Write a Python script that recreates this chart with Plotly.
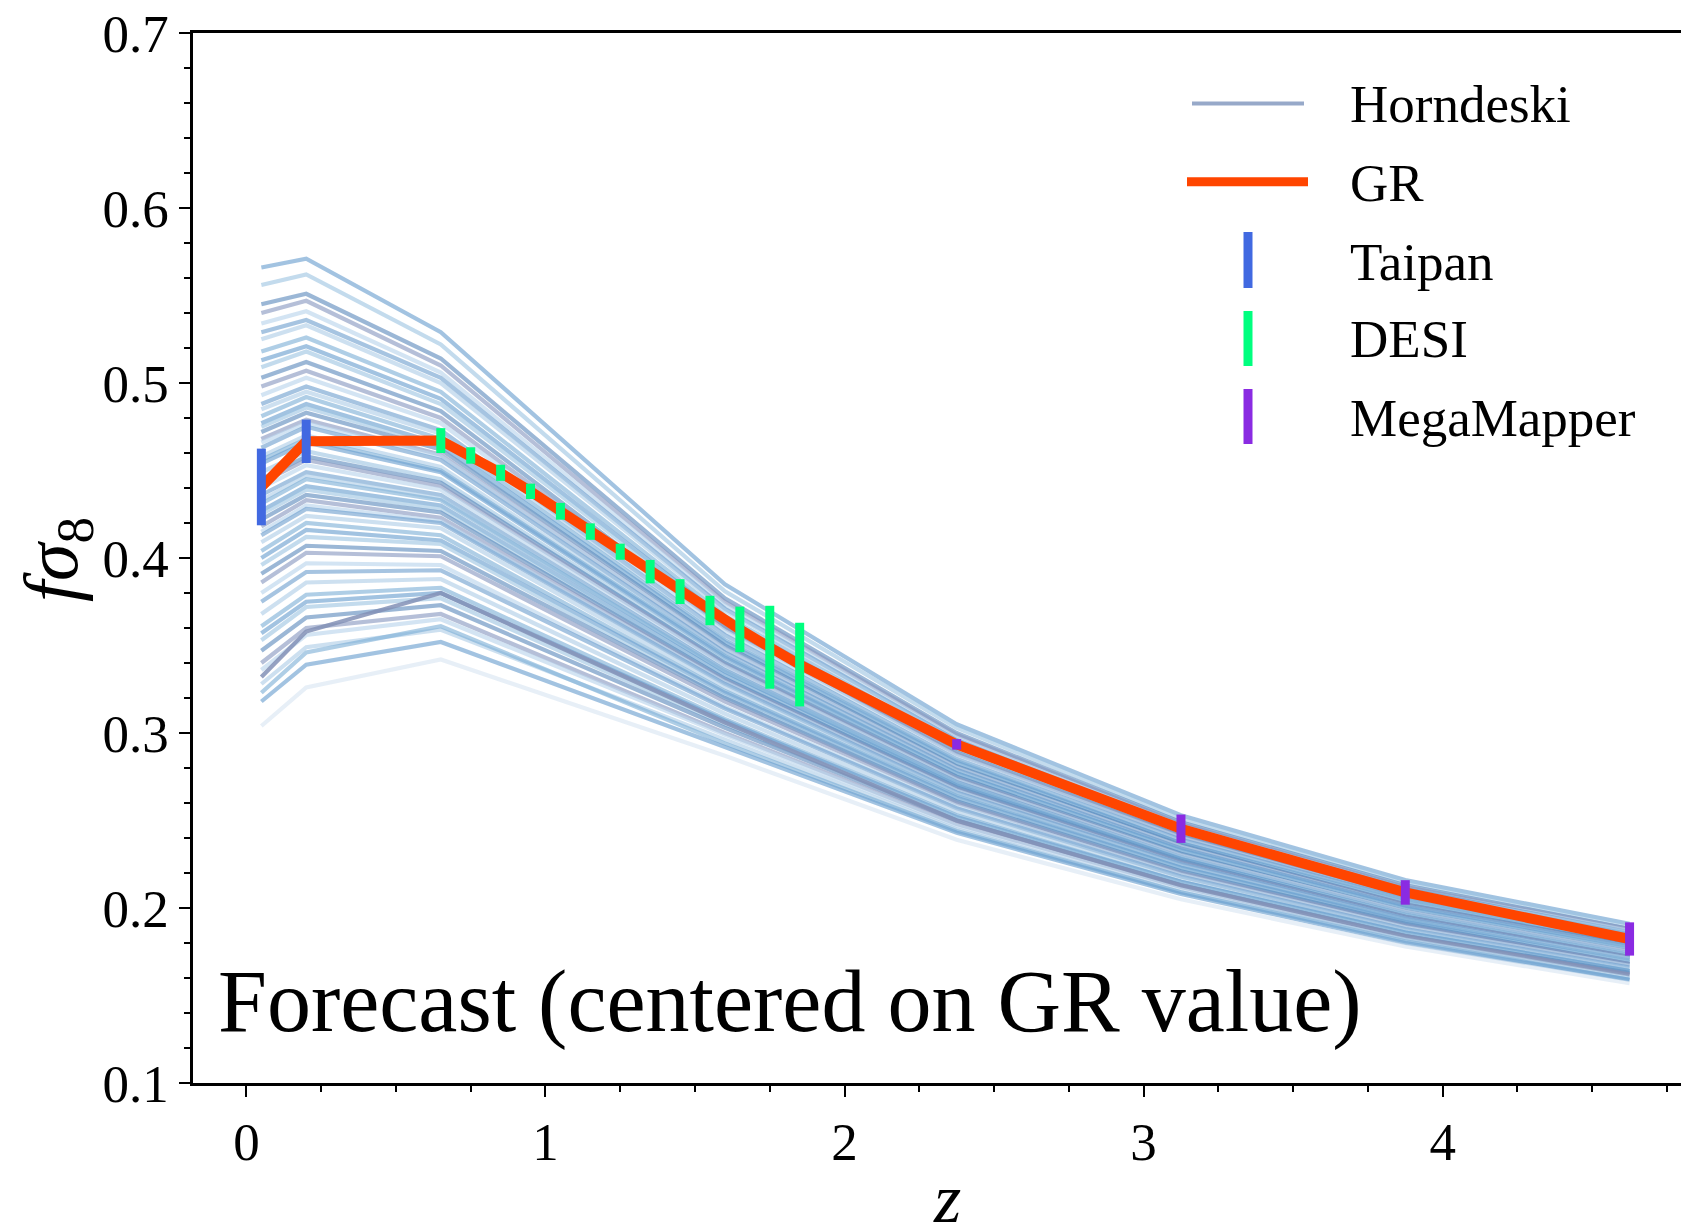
import plotly.graph_objects as go

# ---------------- data ----------------
HORN_Z = [0.05, 0.2, 0.65, 1.6, 2.375, 3.125, 3.875, 4.625]
HORNDESKI_FS8 = [
    [0.566, 0.571, 0.529, 0.385, 0.305, 0.253, 0.216, 0.191],
    [0.556, 0.562, 0.522, 0.381, 0.303, 0.251, 0.215, 0.190],
    [0.545, 0.551, 0.514, 0.377, 0.300, 0.249, 0.213, 0.188],
    [0.540, 0.547, 0.510, 0.375, 0.299, 0.248, 0.212, 0.188],
    [0.534, 0.541, 0.506, 0.373, 0.297, 0.247, 0.211, 0.187],
    [0.529, 0.536, 0.503, 0.371, 0.296, 0.246, 0.211, 0.186],
    [0.525, 0.533, 0.500, 0.370, 0.295, 0.246, 0.210, 0.186],
    [0.518, 0.526, 0.495, 0.367, 0.293, 0.244, 0.209, 0.185],
    [0.513, 0.521, 0.491, 0.365, 0.292, 0.243, 0.208, 0.184],
    [0.509, 0.518, 0.488, 0.364, 0.291, 0.243, 0.208, 0.184],
    [0.503, 0.512, 0.484, 0.361, 0.289, 0.241, 0.207, 0.183],
    [0.498, 0.507, 0.480, 0.360, 0.288, 0.241, 0.206, 0.182],
    [0.493, 0.503, 0.477, 0.358, 0.287, 0.240, 0.205, 0.182],
    [0.488, 0.498, 0.473, 0.356, 0.285, 0.239, 0.205, 0.181],
    [0.485, 0.495, 0.471, 0.355, 0.285, 0.238, 0.204, 0.180],
    [0.481, 0.492, 0.468, 0.353, 0.284, 0.237, 0.204, 0.180],
    [0.477, 0.488, 0.465, 0.352, 0.283, 0.237, 0.203, 0.179],
    [0.475, 0.486, 0.464, 0.351, 0.282, 0.236, 0.203, 0.179],
    [0.472, 0.483, 0.462, 0.350, 0.281, 0.236, 0.202, 0.179],
    [0.468, 0.479, 0.459, 0.348, 0.280, 0.235, 0.202, 0.178],
    [0.466, 0.477, 0.458, 0.348, 0.280, 0.235, 0.201, 0.178],
    [0.463, 0.475, 0.456, 0.346, 0.279, 0.234, 0.201, 0.178],
    [0.458, 0.470, 0.452, 0.345, 0.278, 0.233, 0.200, 0.177],
    [0.456, 0.468, 0.450, 0.344, 0.277, 0.233, 0.200, 0.177],
    [0.454, 0.466, 0.449, 0.343, 0.277, 0.233, 0.200, 0.176],
    [0.449, 0.461, 0.445, 0.341, 0.276, 0.232, 0.199, 0.176],
    [0.445, 0.458, 0.443, 0.340, 0.275, 0.231, 0.198, 0.175],
    [0.443, 0.456, 0.441, 0.339, 0.274, 0.230, 0.198, 0.175],
    [0.440, 0.453, 0.439, 0.338, 0.273, 0.230, 0.198, 0.175],
    [0.436, 0.449, 0.436, 0.336, 0.272, 0.229, 0.197, 0.174],
    [0.433, 0.447, 0.434, 0.335, 0.271, 0.229, 0.197, 0.174],
    [0.431, 0.445, 0.433, 0.335, 0.271, 0.228, 0.196, 0.173],
    [0.427, 0.441, 0.430, 0.333, 0.270, 0.228, 0.196, 0.173],
    [0.425, 0.439, 0.428, 0.332, 0.269, 0.227, 0.196, 0.173],
    [0.422, 0.436, 0.426, 0.331, 0.269, 0.227, 0.195, 0.172],
    [0.418, 0.433, 0.423, 0.330, 0.268, 0.226, 0.195, 0.172],
    [0.415, 0.430, 0.421, 0.329, 0.267, 0.225, 0.194, 0.171],
    [0.413, 0.428, 0.420, 0.328, 0.266, 0.225, 0.194, 0.171],
    [0.409, 0.424, 0.417, 0.326, 0.265, 0.224, 0.193, 0.171],
    [0.404, 0.420, 0.413, 0.324, 0.264, 0.223, 0.193, 0.170],
    [0.400, 0.416, 0.410, 0.323, 0.263, 0.223, 0.192, 0.169],
    [0.396, 0.412, 0.408, 0.321, 0.262, 0.222, 0.191, 0.169],
    [0.391, 0.407, 0.404, 0.320, 0.261, 0.221, 0.191, 0.168],
    [0.386, 0.403, 0.401, 0.318, 0.260, 0.220, 0.190, 0.168],
    [0.380, 0.397, 0.396, 0.315, 0.258, 0.219, 0.189, 0.167],
    [0.375, 0.392, 0.393, 0.314, 0.257, 0.218, 0.188, 0.166],
    [0.368, 0.386, 0.388, 0.311, 0.255, 0.217, 0.187, 0.165],
    [0.361, 0.379, 0.383, 0.308, 0.253, 0.215, 0.186, 0.164],
    [0.357, 0.375, 0.380, 0.307, 0.252, 0.215, 0.186, 0.164],
    [0.353, 0.372, 0.377, 0.305, 0.251, 0.214, 0.185, 0.163],
    [0.347, 0.366, 0.373, 0.303, 0.250, 0.213, 0.184, 0.163],
    [0.340, 0.360, 0.368, 0.300, 0.248, 0.212, 0.183, 0.162],
    [0.336, 0.356, 0.365, 0.299, 0.247, 0.211, 0.183, 0.161],
    [0.332, 0.358, 0.380, 0.306, 0.250, 0.213, 0.184, 0.162],
    [0.328, 0.349, 0.359, 0.296, 0.245, 0.209, 0.182, 0.160],
    [0.323, 0.346, 0.361, 0.294, 0.244, 0.209, 0.181, 0.159],
    [0.318, 0.339, 0.352, 0.292, 0.243, 0.208, 0.180, 0.159],
    [0.304, 0.326, 0.342, 0.287, 0.239, 0.205, 0.178, 0.157],
]

GR_Z = [0.05, 0.2, 0.65, 0.75, 0.85, 0.95, 1.05, 1.15, 1.25, 1.35, 1.45,
        1.55, 1.65, 1.75, 1.85, 2.375, 3.125, 3.875, 4.625]
GR_FS8 = [0.4406, 0.4667, 0.4671, 0.4586, 0.4487, 0.4381, 0.4267, 0.4151,
          0.4036, 0.3922, 0.3808, 0.3700, 0.3592, 0.3490, 0.3391, 0.2935,
          0.2453, 0.2089, 0.1823]

TAIPAN_Z = [0.05, 0.2]
TAIPAN_FS8 = [0.4406, 0.4667]
TAIPAN_ERR = [0.0219, 0.0124]

DESI_Z = [0.65, 0.75, 0.85, 0.95, 1.05, 1.15, 1.25, 1.35, 1.45, 1.55, 1.65, 1.75, 1.85]
DESI_FS8 = [0.4671, 0.4586, 0.4487, 0.4381, 0.4267, 0.4151, 0.4036, 0.3922,
            0.3808, 0.3700, 0.3592, 0.3490, 0.3391]
DESI_ERR = [0.0071, 0.0047, 0.0046, 0.0044, 0.0048, 0.0047, 0.0046, 0.0067,
            0.0071, 0.0084, 0.0130, 0.0237, 0.0239]

MM_Z = [2.375, 3.125, 3.875, 4.625]
MM_FS8 = [0.2935, 0.2453, 0.2089, 0.1823]
MM_ERR = [0.0030, 0.0081, 0.0070, 0.0095]

X_TICKS = [0, 1, 2, 3, 4]
Y_TICKS = [0.1, 0.2, 0.3, 0.4, 0.5, 0.6, 0.7]

# ---------------- style ----------------
W, H = 1681, 1227
ML, MR, MT, MB = 193, 0, 33, 144
FONT = "Liberation Serif"
C_GR = "#FF4500"
C_TAIPAN = "#4169E1"
C_DESI = "#00FF7F"
C_MM = "#8A2BE2"
HORN_PALETTE = [
    "rgba(105,158,206,0.62)",
    "rgba(158,197,226,0.62)",
    "rgba(72,124,180,0.55)",
    "rgba(135,152,192,0.62)",
    "rgba(188,214,236,0.65)",
    "rgba(92,148,200,0.55)",
    "rgba(172,204,230,0.6)",
    "rgba(118,170,212,0.58)",
]


def px_x(p):
    return (p - ML) / (W - ML - MR)


def px_y(p):
    return (H - MB - p) / (H - MT - MB)


fig = go.Figure()

n = len(HORNDESKI_FS8)
for i, ys in enumerate(HORNDESKI_FS8):
    col = HORN_PALETTE[i % len(HORN_PALETTE)]
    if i == n - 1:
        col = "rgba(215,228,242,0.6)"
    if ys[0] == 0.332:
        col = "rgba(130,145,182,0.85)"
    fig.add_trace(go.Scatter(x=HORN_Z, y=ys, mode="lines",
                             line=dict(color=col, width=4.2),
                             showlegend=False, hoverinfo="skip"))

fig.add_trace(go.Scatter(x=GR_Z, y=GR_FS8, mode="lines",
                         line=dict(color=C_GR, width=10),
                         showlegend=False))

for zs, vs, es, c in [(TAIPAN_Z, TAIPAN_FS8, TAIPAN_ERR, C_TAIPAN),
                      (DESI_Z, DESI_FS8, DESI_ERR, C_DESI),
                      (MM_Z, MM_FS8, MM_ERR, C_MM)]:
    fig.add_trace(go.Scatter(x=zs, y=vs, mode="markers",
                             marker=dict(size=1, color=c),
                             error_y=dict(type="data", array=es, thickness=9,
                                          width=0, color=c),
                             showlegend=False))

# ---------------- manual legend ----------------
shapes = []
annotations = []
leg_text_x = px_x(1348)
legend_items = [
    ("Horndeski", "line", "rgba(140,160,195,0.9)", 4, (1192, 1304), 103.5, 104),
    ("GR", "line", C_GR, 9, (1187, 1308), 181.7, 183),
    ("Taipan", "bar", C_TAIPAN, 9, (232, 288), 1248, 261.5),
    ("DESI", "bar", C_DESI, 9, (311, 366), 1248, 339),
    ("MegaMapper", "bar", C_MM, 9, (389, 444), 1248, 417.5),
]
for label, kind, col, w, span, pos, ty in legend_items:
    if kind == "line":
        shapes.append(dict(type="line", xref="paper", yref="paper",
                           x0=px_x(span[0]), x1=px_x(span[1]),
                           y0=px_y(pos), y1=px_y(pos),
                           line=dict(color=col, width=w)))
    else:
        shapes.append(dict(type="line", xref="paper", yref="paper",
                           x0=px_x(pos), x1=px_x(pos),
                           y0=px_y(span[0]), y1=px_y(span[1]),
                           line=dict(color=col, width=w)))
    annotations.append(dict(text=label, xref="paper", yref="paper",
                            x=leg_text_x, y=px_y(ty), xanchor="left",
                            yanchor="middle", showarrow=False,
                            font=dict(family=FONT, size=53, color="black")))

# in-plot label
annotations.append(dict(text="Forecast (centered on GR value)", xref="paper",
                        yref="paper", x=px_x(216), y=px_y(1001),
                        xanchor="left", yanchor="middle", showarrow=False,
                        font=dict(family=FONT, size=88, color="black")))
# axis titles
annotations.append(dict(text="<i>z</i>", xref="paper", yref="paper",
                        x=px_x(947), y=px_y(1198), xanchor="center",
                        yanchor="middle", showarrow=False,
                        font=dict(family=FONT, size=70, color="black")))
annotations.append(dict(text="<i>fσ</i><sub>8</sub>", xref="paper",
                        yref="paper", x=px_x(57), y=px_y(560),
                        xanchor="center", yanchor="middle", showarrow=False,
                        textangle=-90,
                        font=dict(family=FONT, size=76, color="black")))

fig.update_layout(
    width=W, height=H,
    margin=dict(l=ML, r=MR, t=MT, b=MB, pad=0),
    paper_bgcolor="white", plot_bgcolor="white",
    showlegend=False,
    shapes=shapes, annotations=annotations,
    font=dict(family=FONT, color="black"),
    xaxis=dict(range=[-0.1786, 4.797], tickmode="array", tickvals=X_TICKS,
               ticktext=[str(t) for t in X_TICKS],
               ticks="outside", ticklen=11, tickwidth=2, tickcolor="black",
               showline=True, linewidth=2.5, linecolor="black", mirror=True,
               showgrid=False, zeroline=False,
               tickfont=dict(family=FONT, size=53, color="black"),
               minor=dict(ticks="outside", ticklen=6, tickwidth=1.5,
                          tickcolor="black", tick0=0, dtick=0.25,
                          showgrid=False)),
    yaxis=dict(range=[0.1, 0.7], tickmode="array", tickvals=Y_TICKS,
               ticktext=["%.1f" % t for t in Y_TICKS],
               ticks="outside", ticklen=11, tickwidth=2, tickcolor="black",
               showline=True, linewidth=2.5, linecolor="black", mirror=False,
               showgrid=False, zeroline=False,
               tickfont=dict(family=FONT, size=53, color="black"),
               minor=dict(ticks="outside", ticklen=6, tickwidth=1.5,
                          tickcolor="black", tick0=0.1, dtick=0.02,
                          showgrid=False)),
)

fig.write_html("out.html")
